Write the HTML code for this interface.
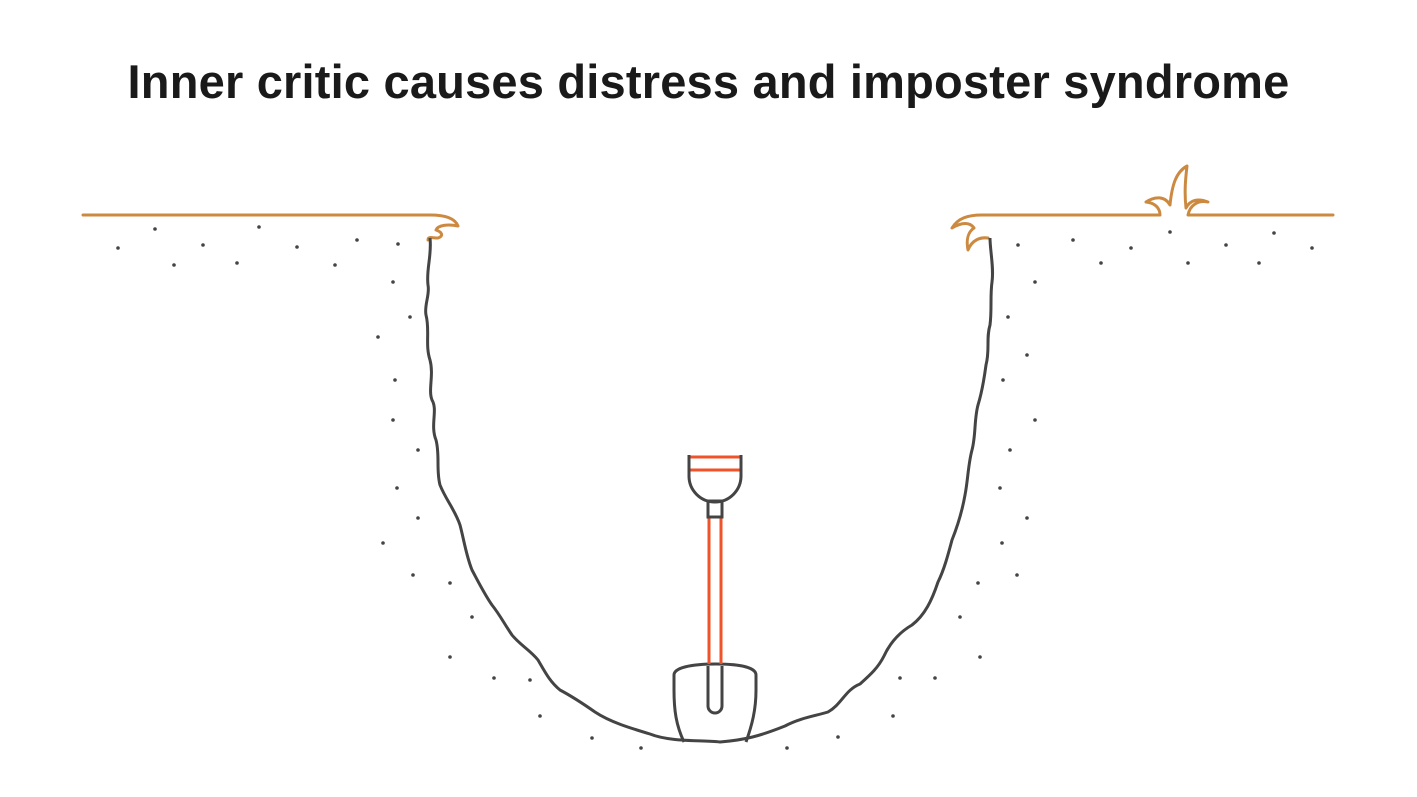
<!DOCTYPE html>
<html><head><meta charset="utf-8"><style>
body{margin:0;background:#fff;width:1417px;height:797px;overflow:hidden}
h1{position:absolute;left:0;top:54px;width:1417px;margin:0;text-align:center;font:bold 47px "Liberation Sans",sans-serif;color:#1a1a1a;letter-spacing:0.2px}
svg{position:absolute;left:0;top:0}
</style></head><body>
<h1>Inner critic causes distress and imposter syndrome</h1>
<svg width="1417" height="797" viewBox="0 0 1417 797">
<g fill="none" stroke="#cc8a40" stroke-width="3" stroke-linecap="round" stroke-linejoin="round">
<path d="M83,215 H430 C445,215 455,218 458,226 C448,224 438,225 436,230 C442,232 444,236 438,238 C432,238 428,236 428,240"/>
<path d="M1333,215 H1188 C1190,205 1198,200 1208,202 C1198,198 1190,200 1186,208 C1184,190 1186,175 1187,166 C1176,172 1172,185 1170,205 C1165,196 1155,196 1146,202 C1155,203 1160,208 1160,215 H982 C968,215 958,218 952,228 C962,222 970,222 974,228 C968,232 966,240 968,250 C972,240 980,237 988,238"/>
</g>
<path fill="none" stroke="#444" stroke-width="3" stroke-linejoin="round" d="M430,238 C432,255 426,270 428,285 C430,295 424,305 426,315 C430,330 425,345 430,360 C434,375 428,390 432,400 C438,410 430,425 436,440 C440,455 436,470 440,485 C446,500 455,510 460,525 C464,540 466,555 472,570 C480,585 485,595 492,605 C500,615 505,625 512,635 C520,645 530,650 538,660 C545,672 550,682 560,690 C575,698 585,705 595,712 C610,722 630,728 650,734 C670,742 700,740 720,742 C745,740 760,736 785,726 C800,718 815,716 828,712 C842,704 845,690 860,684 C870,675 878,668 884,656 C890,643 900,632 912,625 C925,615 932,600 938,582 C944,570 948,555 952,540 C958,525 962,512 965,495 C968,480 968,465 972,450 C976,435 974,420 978,405 C982,392 984,380 986,365 C990,350 986,338 990,325 C992,310 990,296 992,282 C994,268 990,250 990,238"/>
<path fill="none" stroke="#444" stroke-width="3" stroke-linejoin="round" d="M684,742 C676,725 674,710 674,690 V675 C674,668 690,664 716,664 C742,664 756,668 756,675 V690 C756,710 752,725 746,742"/>
<path fill="none" stroke="#444" stroke-width="3" d="M708,666 V706 A7,7 0 0 0 722,706 V666"/>
<g stroke="#f0532a" stroke-width="3"><line x1="709" y1="517" x2="709" y2="664"/><line x1="721" y1="517" x2="721" y2="664"/><line x1="689" y1="457" x2="741" y2="457"/><line x1="689" y1="470" x2="741" y2="470"/></g>
<path fill="none" stroke="#444" stroke-width="3" d="M689,455 V476 A26,26 0 0 0 741,476 V455"/>
<rect x="708" y="501" width="14" height="16" fill="none" stroke="#444" stroke-width="3"/>
<g fill="#444">
<circle cx="118" cy="248" r="1.8"/><circle cx="155" cy="229" r="1.8"/><circle cx="174" cy="265" r="1.8"/><circle cx="203" cy="245" r="1.8"/><circle cx="237" cy="263" r="1.8"/><circle cx="259" cy="227" r="1.8"/><circle cx="297" cy="247" r="1.8"/><circle cx="335" cy="265" r="1.8"/><circle cx="357" cy="240" r="1.8"/><circle cx="398" cy="244" r="1.8"/>
<circle cx="393" cy="282" r="1.8"/><circle cx="410" cy="317" r="1.8"/><circle cx="378" cy="337" r="1.8"/><circle cx="395" cy="380" r="1.8"/><circle cx="393" cy="420" r="1.8"/><circle cx="418" cy="450" r="1.8"/><circle cx="397" cy="488" r="1.8"/><circle cx="418" cy="518" r="1.8"/><circle cx="383" cy="543" r="1.8"/><circle cx="413" cy="575" r="1.8"/><circle cx="450" cy="583" r="1.8"/><circle cx="472" cy="617" r="1.8"/><circle cx="450" cy="657" r="1.8"/><circle cx="494" cy="678" r="1.8"/><circle cx="530" cy="680" r="1.8"/><circle cx="540" cy="716" r="1.8"/><circle cx="592" cy="738" r="1.8"/><circle cx="641" cy="748" r="1.8"/>
<circle cx="787" cy="748" r="1.8"/><circle cx="838" cy="737" r="1.8"/><circle cx="893" cy="716" r="1.8"/><circle cx="900" cy="678" r="1.8"/><circle cx="935" cy="678" r="1.8"/><circle cx="980" cy="657" r="1.8"/><circle cx="960" cy="617" r="1.8"/><circle cx="978" cy="583" r="1.8"/><circle cx="1017" cy="575" r="1.8"/><circle cx="1002" cy="543" r="1.8"/><circle cx="1027" cy="518" r="1.8"/><circle cx="1000" cy="488" r="1.8"/><circle cx="1010" cy="450" r="1.8"/><circle cx="1035" cy="420" r="1.8"/><circle cx="1003" cy="380" r="1.8"/><circle cx="1027" cy="355" r="1.8"/><circle cx="1008" cy="317" r="1.8"/><circle cx="1035" cy="282" r="1.8"/>
<circle cx="1018" cy="245" r="1.8"/><circle cx="1073" cy="240" r="1.8"/><circle cx="1101" cy="263" r="1.8"/><circle cx="1131" cy="248" r="1.8"/><circle cx="1170" cy="232" r="1.8"/><circle cx="1188" cy="263" r="1.8"/><circle cx="1226" cy="245" r="1.8"/><circle cx="1259" cy="263" r="1.8"/><circle cx="1274" cy="233" r="1.8"/><circle cx="1312" cy="248" r="1.8"/>
</g>
</svg>
</body></html>
